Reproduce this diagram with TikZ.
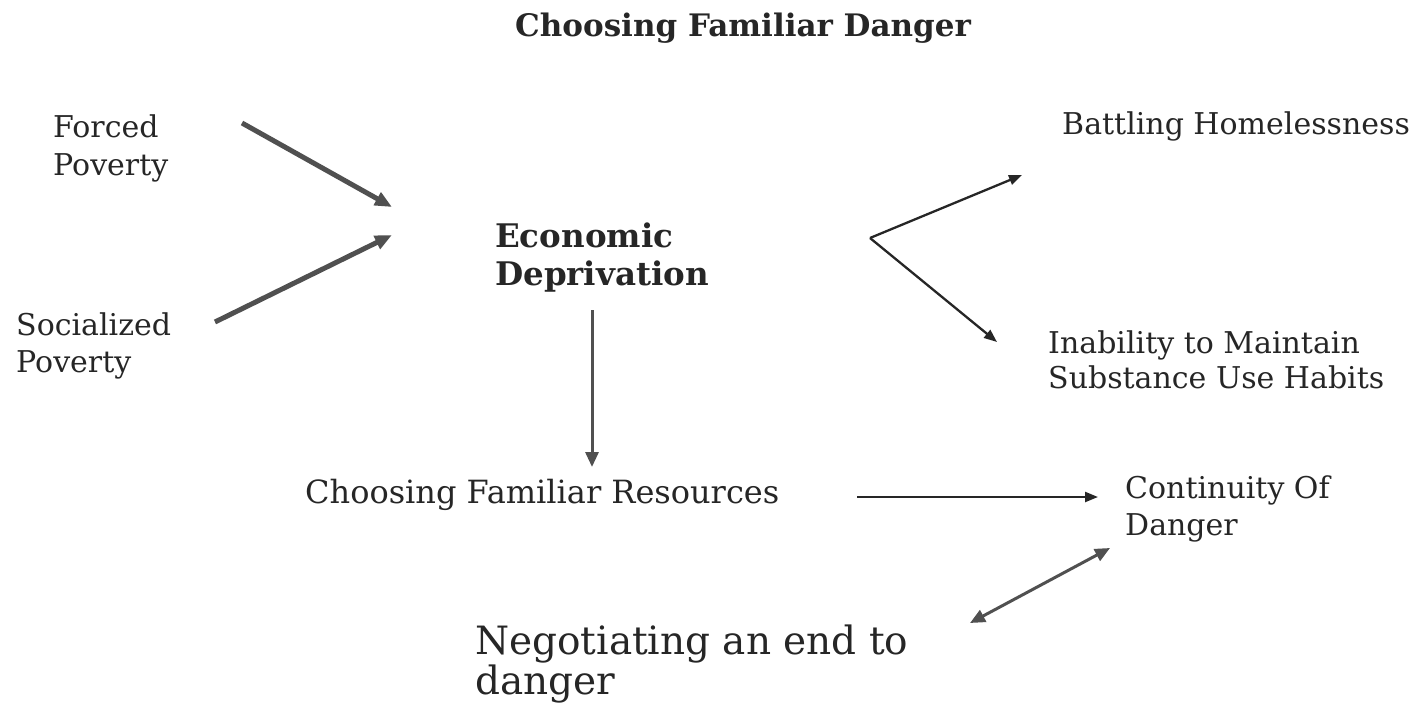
\documentclass[tikz,border=0pt]{standalone}
\usepackage{fontspec}
\setmainfont{DejaVu Serif}
\usetikzlibrary{arrows.meta}
\definecolor{inkdark}{HTML}{262626}
\definecolor{inkgray}{HTML}{505050}
\begin{document}
\begin{tikzpicture}[x=1pt,y=-1pt,
    lbl/.style={anchor=base west,inner sep=0pt,align=left,text=inkdark,
        font=\fontsize{30}{37}\selectfont},
    heavy/.style={draw=inkgray,line width=5pt,-{Triangle[length=17pt,width=14pt]}},
    light/.style={draw=inkdark,line width=2.3pt,-{Triangle[length=13pt,width=10pt]}},
    medium/.style={draw=inkgray,line width=3pt,-{Triangle[length=15pt,width=13pt]}}]
  \useasboundingbox (0,0) rectangle (1418,706);
  \node[lbl,font=\fontsize{31}{37}\bfseries\selectfont] (title) at (515,37) {Choosing Familiar Danger};
  \node[lbl,font=\fontsize{30}{38}\selectfont] (fp) at (53,175) {Forced\\Poverty};
  \node[lbl] (sp) at (16,372) {Socialized\\Poverty};
  \node[lbl,font=\fontsize{32.5}{38}\bfseries\selectfont] (ed) at (495,285) {Economic\\Deprivation};
  \node[lbl] (bh) at (1062,135) {Battling Homelessness};
  \node[lbl,font=\fontsize{30}{35}\selectfont] (im) at (1048,388) {Inability to Maintain\\Substance Use Habits};
  \node[lbl,font=\fontsize{32}{37}\selectfont] (cfr) at (305,503) {Choosing Familiar Resources};
  \node[lbl] (cd) at (1125,535) {Continuity Of\\Danger};
  \node[lbl,font=\fontsize{39}{40}\selectfont] (neg) at (475,694) {Negotiating an end to\\danger};
  % arrows into economic deprivation
  \draw[heavy] ([shift={(189,-52)}]fp.base west) -- ([shift={(-103,-78)}]ed.base west);
  \draw[heavy] ([shift={(199,-50)}]sp.base west) -- ([shift={(-103,-50)}]ed.base west);
  % fork to the right
  \coordinate (fork) at ([shift={(375,-47)}]ed.base west);
  \draw[light] (fork) -- ([shift={(-40,40)}]bh.base west);
  \draw[light] (fork) -- ([shift={(-51,-46)}]im.base west);
  \draw[medium] ([shift={(97,25)}]ed.base west) -- ([shift={(287,-36)}]cfr.base west);
  \draw[light] ([shift={(552,-6)}]cfr.base west) -- ([shift={(-27,-38)}]cd.base west);
  \draw[medium,{Triangle[length=15pt,width=13pt]}-{Triangle[length=15pt,width=13pt]}]
    ([shift={(495,-71)}]neg.base west) -- ([shift={(-15,13)}]cd.base west);
\end{tikzpicture}
\end{document}
